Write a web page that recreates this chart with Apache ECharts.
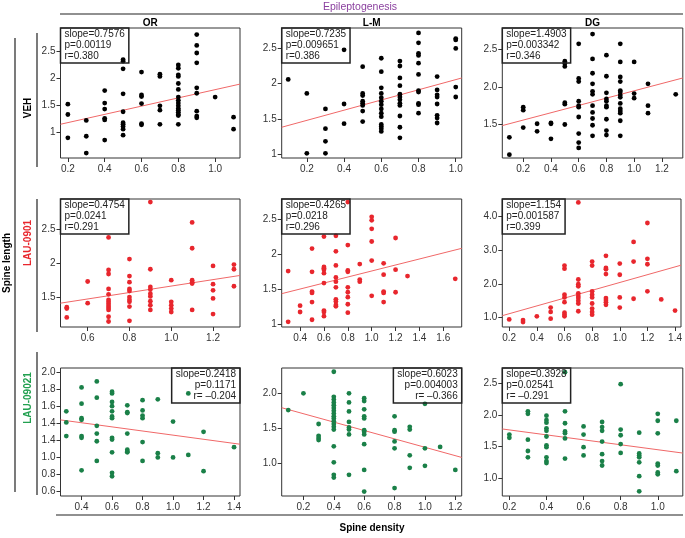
<!DOCTYPE html>
<html>
<head>
<meta charset="utf-8">
<script src="https://cdn.jsdelivr.net/npm/echarts@6/dist/echarts.min.js"></script>
<style>
html, body { margin: 0; padding: 0; background: #fff; }
#main { width: 685px; height: 538px; }
</style>
</head>
<body>
<div id="main"></div>
<script>
// ---- data: [spine density, spine length] ----
var vehOR = [
  [0.2,1.52],[0.2,1.33],[0.2,0.90],
  [0.3,1.22],[0.3,0.93],[0.3,0.62],
  [0.4,1.77],[0.4,1.54],[0.4,1.43],[0.4,1.26],[0.4,1.23],[0.4,0.86],
  [0.5,2.34],[0.5,2.31],[0.5,2.17],[0.5,1.71],[0.5,1.38],[0.5,1.18],[0.5,1.15],[0.5,1.11],[0.5,1.06],[0.5,0.95],
  [0.6,2.11],[0.6,1.69],[0.6,1.66],[0.6,1.53],[0.6,1.16],[0.6,1.14],
  [0.7,2.07],[0.7,2.03],[0.7,1.49],[0.7,1.41],[0.7,1.15],
  [0.8,2.24],[0.8,2.18],[0.8,2.06],[0.8,2.03],[0.8,1.90],[0.8,1.79],[0.8,1.65],[0.8,1.59],[0.8,1.54],[0.8,1.49],[0.8,1.44],[0.8,1.41],[0.8,1.37],[0.8,1.33],[0.8,1.31],[0.8,1.15],
  [0.9,2.80],[0.9,2.60],[0.9,2.46],[0.9,2.28],[0.9,1.82],[0.9,1.72],[0.9,1.39],[0.9,1.30],[0.9,1.27],
  [1.0,1.65],
  [1.1,1.28],[1.1,1.06]
];
var vehLM = [
  [0.1,2.06],
  [0.2,1.86],[0.2,1.01],
  [0.3,1.64],[0.3,1.36],[0.3,1.18],[0.3,1.01],
  [0.4,2.48],[0.4,1.71],[0.4,1.43],
  [0.5,2.24],[0.5,1.86],[0.5,1.83],[0.5,1.75],[0.5,1.72],[0.5,1.69],[0.5,1.61],[0.5,1.46],
  [0.6,2.36],[0.6,2.17],[0.6,1.94],[0.6,1.86],[0.6,1.80],[0.6,1.75],[0.6,1.70],[0.6,1.64],[0.6,1.58],[0.6,1.53],[0.6,1.42],[0.6,1.39],[0.6,1.36],[0.6,1.32],
  [0.7,2.32],[0.7,2.25],[0.7,2.08],[0.7,1.97],[0.7,1.85],[0.7,1.81],[0.7,1.77],[0.7,1.72],[0.7,1.69],[0.7,1.54],[0.7,1.38],[0.7,1.23],
  [0.8,2.72],[0.8,2.58],[0.8,2.43],[0.8,2.40],[0.8,2.29],[0.8,2.13],[0.8,1.90],[0.8,1.88],[0.8,1.72],[0.8,1.70],[0.8,1.58],
  [0.9,2.10],[0.9,1.91],[0.9,1.84],[0.9,1.81],[0.9,1.71],[0.9,1.55],[0.9,1.51],[0.9,1.44],
  [1.0,2.64],[1.0,2.62],[1.0,2.50],[1.0,1.95],[1.0,1.81]
];
var vehDG = [
  [0.1,1.33],[0.1,1.10],
  [0.2,1.73],[0.2,1.69],[0.2,1.46],
  [0.3,1.51],[0.3,1.41],
  [0.4,1.52],[0.4,1.51],[0.4,1.31],
  [0.5,2.34],[0.5,2.31],[0.5,2.27],[0.5,1.79],[0.5,1.77],[0.5,1.50],
  [0.6,2.57],[0.6,2.11],[0.6,2.07],[0.6,1.81],[0.6,1.75],[0.6,1.73],[0.6,1.60],[0.6,1.38],[0.6,1.26],[0.6,1.19],
  [0.7,2.70],[0.7,2.37],[0.7,2.18],[0.7,2.04],[0.7,1.94],[0.7,1.90],[0.7,1.75],[0.7,1.66],[0.7,1.58],[0.7,1.49],[0.7,1.35],
  [0.8,2.42],[0.8,2.14],[0.8,1.92],[0.8,1.84],[0.8,1.81],[0.8,1.75],[0.8,1.73],[0.8,1.57],[0.8,1.42],[0.8,1.36],
  [0.9,2.57],[0.9,2.33],[0.9,2.13],[0.9,2.07],[0.9,1.95],[0.9,1.93],[0.9,1.89],[0.9,1.86],[0.9,1.78],[0.9,1.71],[0.9,1.68],[0.9,1.65],[0.9,1.55],[0.9,1.35],
  [1.0,2.33],[1.0,1.91],[1.0,1.85],
  [1.1,2.04],[1.1,1.75],[1.1,1.65],
  [1.3,1.90]
];
var lau901OR = [
  [0.5,1.35],[0.5,1.33],[0.5,1.20],
  [0.6,1.73],[0.6,1.41],
  [0.7,2.38],[0.7,1.90],[0.7,1.84],[0.7,1.62],[0.7,1.54],[0.7,1.46],[0.7,1.43],[0.7,1.40],[0.7,1.37],[0.7,1.34],[0.7,1.31],[0.7,1.21],[0.7,1.14],
  [0.8,2.06],[0.8,1.81],[0.8,1.72],[0.8,1.62],[0.8,1.59],[0.8,1.50],[0.8,1.46],[0.8,1.43],[0.8,1.36],[0.8,1.15],
  [0.9,2.90],[0.9,1.91],[0.9,1.65],[0.9,1.61],[0.9,1.55],[0.9,1.51],[0.9,1.44],[0.9,1.38],[0.9,1.31],
  [1.0,1.75],[1.0,1.43],[1.0,1.38],[1.0,1.33],[1.0,1.28],
  [1.1,2.60],[1.1,2.22],[1.1,1.75],[1.1,1.72],[1.1,1.70],[1.1,1.31],
  [1.2,1.96],[1.2,1.69],[1.2,1.60],[1.2,1.48],[1.2,1.25],
  [1.3,1.98],[1.3,1.91],[1.3,1.66]
];
var lau901LM = [
  [0.3,1.76],[0.3,1.04],
  [0.4,1.27],[0.4,1.18],
  [0.5,2.08],[0.5,1.75],[0.5,1.47],[0.5,1.45],[0.5,1.32],[0.5,1.07],
  [0.6,2.25],[0.6,1.82],[0.6,1.80],[0.6,1.78],[0.6,1.73],[0.6,1.59],[0.6,1.20],[0.6,1.18],[0.6,1.12],
  [0.7,2.26],[0.7,2.04],[0.7,1.84],[0.7,1.67],[0.7,1.61],[0.7,1.53],[0.7,1.36],[0.7,1.33],[0.7,1.28],[0.7,1.26],
  [0.8,2.74],[0.8,2.13],[0.8,1.77],[0.8,1.75],[0.8,1.53],[0.8,1.46],[0.8,1.39],[0.8,1.29],[0.8,1.17],
  [0.9,1.86],[0.9,1.64],[0.9,1.61],
  [1.0,2.53],[1.0,2.48],[1.0,2.36],[1.0,2.18],[1.0,1.91],[1.0,1.41],
  [1.1,1.87],[1.1,1.71],[1.1,1.47],[1.1,1.45],[1.1,1.32],
  [1.2,2.23],[1.2,1.78],[1.2,1.46],
  [1.3,1.69],
  [1.7,1.65]
];
var lau901DG = [
  [0.2,0.95],
  [0.3,0.93],[0.3,0.87],
  [0.4,1.04],
  [0.5,1.30],[0.5,1.17],[0.5,0.97],
  [0.6,2.54],[0.6,2.45],[0.6,1.68],[0.6,1.60],[0.6,1.46],[0.6,1.15],[0.6,1.09],[0.6,1.04],
  [0.7,4.41],[0.7,2.13],[0.7,1.99],[0.7,1.93],[0.7,1.72],[0.7,1.64],[0.7,1.58],[0.7,1.50],[0.7,1.42],[0.7,1.19],
  [0.8,2.66],[0.8,2.54],[0.8,1.78],[0.8,1.68],[0.8,1.60],[0.8,1.42],[0.8,1.27],[0.8,1.17],[0.8,1.09],
  [0.9,2.83],[0.9,2.47],[0.9,2.43],[0.9,2.29],[0.9,1.58],[0.9,1.52],[0.9,1.46],[0.9,1.38],
  [1.0,2.60],[1.0,2.27],[1.0,1.60],[1.0,1.30],
  [1.1,3.24],[1.1,2.66],[1.1,1.56],
  [1.2,3.80],[1.2,2.74],[1.2,2.58],[1.2,1.78],
  [1.3,1.54],
  [1.4,1.21]
];
var lau9021OR = [
  [0.3,1.54],[0.3,1.41],[0.3,1.25],
  [0.4,1.82],[0.4,1.63],[0.4,1.46],[0.4,1.44],[0.4,1.25],[0.4,1.23],[0.4,0.85],
  [0.5,1.89],[0.5,1.70],[0.5,1.37],[0.5,1.28],[0.5,1.19],[0.5,0.96],
  [0.6,1.77],[0.6,1.75],[0.6,1.65],[0.6,1.60],[0.6,1.54],[0.6,1.48],[0.6,1.46],[0.6,1.23],[0.6,1.21],[0.6,1.06],[0.6,0.82],[0.6,0.78],
  [0.7,1.61],[0.7,1.53],[0.7,1.52],[0.7,1.28],[0.7,1.09],[0.7,1.07],[0.7,1.06],
  [0.8,1.67],[0.8,1.55],[0.8,1.49],[0.8,1.46],[0.8,1.18],[0.8,0.96],
  [0.9,1.68],[0.9,1.05],[0.9,1.00],
  [1.0,1.42],[1.0,1.00],
  [1.1,1.75],[1.1,1.03],
  [1.2,1.30],[1.2,0.84],
  [1.4,1.12]
];
var lau9021LM = [
  [0.1,1.76],
  [0.2,2.00],
  [0.3,1.56],[0.3,1.39],[0.3,1.36],[0.3,1.33],
  [0.4,2.31],[0.4,1.95],[0.4,1.91],[0.4,1.87],[0.4,1.83],[0.4,1.79],[0.4,1.75],[0.4,1.71],[0.4,1.67],[0.4,1.64],[0.4,1.60],[0.4,1.56],[0.4,1.52],[0.4,1.48],[0.4,1.24],[0.4,1.01],[0.4,0.83],[0.4,0.79],
  [0.5,2.00],[0.5,1.87],[0.5,1.74],[0.5,1.59],[0.5,1.51],[0.5,1.48],[0.5,1.41],[0.5,0.83],
  [0.6,1.93],[0.6,1.89],[0.6,1.77],[0.6,1.67],[0.6,1.64],[0.6,1.47],[0.6,1.45],[0.6,1.41],[0.6,1.27],[0.6,0.90],[0.6,0.59],
  [0.8,1.67],[0.8,1.47],[0.8,1.45],[0.8,1.31],[0.8,1.21],[0.8,0.64],
  [0.9,1.52],[0.9,1.48],[0.9,1.11],[0.9,0.93],
  [1.0,1.85],[1.0,1.21],[1.0,0.96],
  [1.1,1.23],
  [1.2,0.90]
];
var lau9021DG = [
  [0.2,1.69],[0.2,1.64],
  [0.3,2.06],[0.3,2.02],[0.3,1.61],[0.3,1.43],[0.3,1.33],
  [0.4,1.99],[0.4,1.92],[0.4,1.88],[0.4,1.79],[0.4,1.75],[0.4,1.66],[0.4,1.52],[0.4,1.49],[0.4,1.33],[0.4,1.27],[0.4,1.24],
  [0.5,2.68],[0.5,2.06],[0.5,1.87],[0.5,1.74],[0.5,1.71],[0.5,1.63],[0.5,1.31],
  [0.6,1.82],[0.6,1.69],[0.6,1.49],[0.6,1.36],
  [0.7,1.89],[0.7,1.81],[0.7,1.75],[0.7,1.58],[0.7,1.38],[0.7,1.27],[0.7,1.20],
  [0.8,2.49],[0.8,1.77],[0.8,1.68],[0.8,1.54],[0.8,1.40],
  [0.9,1.72],[0.9,1.39],[0.9,1.36],[0.9,1.33],[0.9,1.25],[0.9,1.03],[0.9,0.79],
  [1.0,2.02],[1.0,1.91],[1.0,1.71],[1.0,1.23],[1.0,1.20],[1.0,1.09],[1.0,1.06],
  [1.1,1.91],[1.1,1.11]
];

// fitted lines as drawn: [intercept, slope]
var fitLines = [
  [1.029, 0.7576], [1.333, 0.7235], [1.462, 0.485],
  [1.187, 0.4754], [1.335, 0.4265], [0.887, 1.154],
  [1.503, -0.2418], [1.828, -0.6023], [1.843, -0.3928]
];

var statTexts = [
  'slope=0.7576\np=0.00119\nr=0.380',
  'slope=0.7235\np=0.009651\nr=0.386',
  'slope=1.4903\np=0.003342\nr=0.346',
  'slope=0.4754\np=0.0241\nr=0.291',
  'slope=0.4265\np=0.0218\nr=0.296',
  'slope=1.154\np=0.001587\nr=0.399',
  'slope=0.2418\np=0.1171\nr= \u20130.204',
  'slope=0.6023\np=0.004003\nr= \u20130.366',
  'slope=0.3928\np=0.02541\nr= \u20130.291'
];

var colNames = ['OR', 'L-M', 'DG'];
var rowNames = ['VEH', 'LAU-0901', 'LAU-09021'];

// tick values and their printed labels
var xTicks = [
  [0.2,0.4,0.6,0.8,1.0], [0.2,0.4,0.6,0.8,1.0], [0.2,0.4,0.6,0.8,1.0,1.2],
  [0.6,0.8,1.0,1.2], [0.4,0.6,0.8,1.0,1.2,1.4,1.6], [0.2,0.4,0.6,0.8,1.0,1.2,1.4],
  [0.4,0.6,0.8,1.0,1.2,1.4], [0.2,0.4,0.6,0.8,1.0,1.2], [0.2,0.4,0.6,0.8,1.0]
];
var yTicks = [
  [1,1.5,2,2.5], [1,1.5,2,2.5], [1.5,2.0,2.5],
  [1.5,2,2.5], [1,1.5,2,2.5], [1.0,2.0,3.0,4.0],
  [0.6,0.8,1.0,1.2,1.4,1.6,1.8,2.0], [1.0,1.5,2.0], [1.0,1.5,2.0,2.5]
];
var yTickLabels = [
  ['1','1.5','2','2.5'], ['1','1.5','2','2.5'], ['1.5','2.0','2.5'],
  ['1.5','2','2.5'], ['1','1.5','2','2.5'], ['1.0','2.0','3.0','4.0'],
  ['0.6','0.8','1.0','1.4','1.4','1.6','1.8','2.0'], ['1.0','1.5','2.0'], ['1.0','1.5','2.0','2.5']
];

// axis extents per panel
var xRange = [
  [0.16,1.135], [0.065,1.032], [0.049,1.351],
  [0.47,1.329], [0.246,1.754], [0.15,1.443],
  [0.262,1.439], [0.057,1.242], [0.162,1.135]
];
var yRange = [
  [0.53,2.92], [0.943,2.79], [1.056,2.78],
  [1.059,2.946], [0.967,2.783], [0.725,4.51],
  [0.549,2.047], [0.526,2.364], [0.716,2.747]
];

var panelData = [vehOR, vehLM, vehDG, lau901OR, lau901LM, lau901DG, lau9021OR, lau9021LM, lau9021DG];

// ---- layout ----
var FONT = 'Liberation Sans, Arial, sans-serif';
var rowColors = ['#000000', '#e8262d', '#1a8048'];
var labelColors = ['#000000', '#e8262d', '#22a050'];
var colLeft = [60.5, 281.7, 502.3];
var colW = [179.5, 180, 180.5];
var rowTop = [28, 199, 368];
var rowH = [130, 128, 128];
var statRight = [false, false, false, false, false, false, true, true, false];

function fmtLabel(ticks, labels) {
  return function (v) {
    for (var k = 0; k < ticks.length; k++) {
      if (Math.abs(ticks[k] - v) < 1e-6) return labels ? labels[k] : ticks[k].toFixed(1);
    }
    return '';
  };
}

var grids = [], xAxes = [], yAxes = [], series = [], graphics = [];
for (var i = 0; i < 9; i++) {
  var r = Math.floor(i / 3), c = i % 3;
  grids.push({
    left: colLeft[c], top: rowTop[r], width: colW[c], height: rowH[r],
    show: true, borderColor: '#333', borderWidth: 1, backgroundColor: 'transparent'
  });
  xAxes.push({
    gridIndex: i, type: 'value', min: xRange[i][0], max: xRange[i][1],
    axisLine: { show: false, onZero: false },
    axisTick: { show: true, length: 4, customValues: xTicks[i], lineStyle: { color: '#333' } },
    axisLabel: { customValues: xTicks[i], formatter: fmtLabel(xTicks[i]), fontSize: 10, color: '#333', margin: 6, fontFamily: FONT },
    splitLine: { show: false }
  });
  yAxes.push({
    gridIndex: i, type: 'value', min: yRange[i][0], max: yRange[i][1],
    axisLine: { show: false, onZero: false },
    axisTick: { show: true, length: 4, customValues: yTicks[i], lineStyle: { color: '#333' } },
    axisLabel: { customValues: yTicks[i], formatter: fmtLabel(yTicks[i], yTickLabels[i]), fontSize: 10, color: '#333', margin: 5, fontFamily: FONT },
    splitLine: { show: false }
  });
  series.push({
    type: 'scatter', xAxisIndex: i, yAxisIndex: i, data: panelData[i],
    symbolSize: 4.8, itemStyle: { color: rowColors[r], opacity: 1 }, z: 3
  });
  var a = fitLines[i][0], b = fitLines[i][1];
  var x0 = xRange[i][0], x1 = xRange[i][1];
  series.push({
    type: 'line', xAxisIndex: i, yAxisIndex: i, symbol: 'none', silent: true,
    data: [[x0, a + b * x0], [x1, a + b * x1]],
    lineStyle: { color: '#f06868', width: 1 }, z: 2
  });
  // stat box
  graphics.push({
    type: 'text', z: 10,
    x: statRight[i] ? colLeft[c] + colW[c] : colLeft[c],
    y: rowTop[r],
    style: {
      text: statTexts[i], fill: '#222', font: '10px ' + FONT, lineHeight: 11,
      align: statRight[i] ? 'right' : 'left', verticalAlign: 'top',
      padding: [1, 4, 1, 4], borderColor: '#222', borderWidth: 1.5
    }
  });
}

// headers and side labels
graphics.push(
  { type: 'text', x: 360, y: 7, style: { text: 'Epileptogenesis', fill: '#8a3f9e', font: '10.5px ' + FONT, align: 'center', verticalAlign: 'middle' } },
  { type: 'line', shape: { x1: 60, y1: 14, x2: 683, y2: 14 }, style: { stroke: '#222', lineWidth: 1.2 } },
  { type: 'line', shape: { x1: 56, y1: 515, x2: 683, y2: 515 }, style: { stroke: '#222', lineWidth: 1.2 } },
  { type: 'text', x: 372, y: 528, style: { text: 'Spine density', fill: '#000', font: 'bold 10px ' + FONT, align: 'center', verticalAlign: 'middle' } },
  { type: 'line', shape: { x1: 15, y1: 38, x2: 15, y2: 492 }, style: { stroke: '#222', lineWidth: 1.2 } },
  { type: 'text', x: 7, y: 263, rotation: Math.PI / 2, style: { text: 'Spine length', fill: '#000', font: 'bold 10px ' + FONT, align: 'center', verticalAlign: 'middle' } }
);
var rowMid = [108, 243, 398];
var rowLine = [[33, 167], [199, 332], [352, 495]];
for (var j = 0; j < 3; j++) {
  graphics.push({ type: 'text', x: colLeft[j] + colW[j] / 2, y: 23, style: { text: colNames[j], fill: '#000', font: 'bold 10px ' + FONT, align: 'center', verticalAlign: 'middle' } });
  graphics.push({ type: 'text', x: 28, y: rowMid[j], rotation: Math.PI / 2, style: { text: rowNames[j], fill: labelColors[j], font: 'bold 10px ' + FONT, align: 'center', verticalAlign: 'middle' } });
  graphics.push({ type: 'line', shape: { x1: 37, y1: rowLine[j][0], x2: 37, y2: rowLine[j][1] }, style: { stroke: '#222', lineWidth: 1.2 } });
}

var chart = echarts.init(document.getElementById('main'));
chart.setOption({
  animation: false,
  backgroundColor: '#fff',
  grid: grids,
  xAxis: xAxes,
  yAxis: yAxes,
  series: series,
  graphic: graphics
});
</script>
</body>
</html>
